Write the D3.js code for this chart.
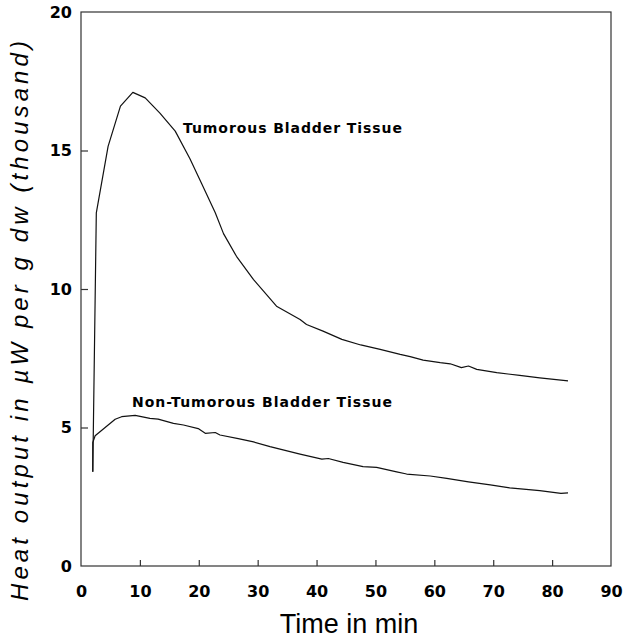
<!DOCTYPE html>
<html>
<head>
<meta charset="utf-8">
<script src="https://cdn.jsdelivr.net/npm/d3@7"></script>
<style>
  html, body { margin: 0; padding: 0; background: #fff; }
  svg { display: block; }
</style>
</head>
<body>
<svg id="chart" width="625" height="639"></svg>
<script>
// Heat output of bladder tissue over time (thousand µW per g dry weight)
const tumorousTime = [2.0, 2.6, 4.6, 6.7, 8.8, 10.9, 13.4, 16.0, 18.5, 20.5, 22.8, 24.2, 26.4, 29.3, 33.2, 37.2, 38.3, 41.1, 44.3, 47.5, 50.8, 54.2, 55.9, 58.1, 61.0, 62.7, 64.6, 65.8, 67.2, 70.6, 74.5, 77.9, 82.7];
const tumorousHeat = [3.4, 12.75, 15.15, 16.6, 17.1, 16.9, 16.35, 15.7, 14.7, 13.8, 12.75, 12.0, 11.18, 10.34, 9.38, 8.9, 8.72, 8.48, 8.18, 7.98, 7.82, 7.64, 7.56, 7.43, 7.34, 7.30, 7.16, 7.22, 7.10, 6.98, 6.88, 6.79, 6.68];

const nonTumorousTime = [2.0, 2.0, 2.4, 4.1, 5.8, 6.9, 9.2, 11.7, 13.1, 15.7, 17.4, 19.9, 21.1, 22.8, 23.6, 26.7, 29.3, 32.1, 33.8, 37.2, 40.9, 42.0, 44.5, 47.9, 50.2, 53.6, 55.3, 59.3, 62.1, 65.8, 69.5, 72.8, 77.9, 81.5, 82.7];
const nonTumorousHeat = [3.4, 4.46, 4.7, 5.0, 5.3, 5.39, 5.44, 5.33, 5.3, 5.15, 5.09, 4.96, 4.79, 4.82, 4.73, 4.6, 4.48, 4.31, 4.22, 4.04, 3.86, 3.88, 3.74, 3.59, 3.56, 3.40, 3.32, 3.25, 3.16, 3.04, 2.93, 2.82, 2.72, 2.62, 2.64];

const xTicks = [0, 10, 20, 30, 40, 50, 60, 70, 80, 90];
const yTicks = [0, 5, 10, 15, 20];

const seriesLabels = ["Tumorous Bladder Tissue", "Non-Tumorous Bladder Tissue"];
const xTitle = "Time in min";
const yTitle = "Heat output in \u00b5W per g dw (thousand)";

const svg = d3.select("#chart");
const plotLeft = 81, plotRight = 611, plotTop = 12, plotBottom = 566;

const x = d3.scaleLinear().domain([0, 90]).range([plotLeft, plotRight]);
const y = d3.scaleLinear().domain([0, 20]).range([plotBottom, plotTop]);

const axisColor = "#333";
const boldFont = "'DejaVu Sans', Verdana, sans-serif";
const textFont = "'Liberation Sans', Arial, sans-serif";

// frame
svg.append("rect")
  .attr("x", plotLeft).attr("y", plotTop)
  .attr("width", plotRight - plotLeft).attr("height", plotBottom - plotTop)
  .attr("fill", "none").attr("stroke", axisColor).attr("stroke-width", 1.2);

// x axis: inward ticks
const gx = svg.append("g").attr("transform", `translate(0,${plotBottom})`)
  .call(d3.axisBottom(x).tickValues(xTicks).tickSizeInner(-6).tickSizeOuter(0).tickPadding(20).tickFormat(d3.format("d")));
gx.select(".domain").remove();
gx.selectAll(".tick line").attr("stroke", axisColor).attr("stroke-width", 1.2);
gx.selectAll(".tick text")
  .attr("font-family", boldFont).attr("font-weight", "bold").attr("font-size", 16)
  .attr("fill", "#000");

// y axis: inward ticks
const gy = svg.append("g").attr("transform", `translate(${plotLeft},0)`)
  .call(d3.axisLeft(y).tickValues(yTicks).tickSizeInner(-7).tickSizeOuter(0).tickPadding(9).tickFormat(d3.format("d")));
gy.select(".domain").remove();
gy.selectAll(".tick line").attr("stroke", axisColor).attr("stroke-width", 1.2);
gy.selectAll(".tick text")
  .attr("font-family", boldFont).attr("font-weight", "bold").attr("font-size", 16)
  .attr("fill", "#000");
// end ticks coincide with the frame
gx.selectAll(".tick").filter(d => d === 0 || d === 90).select("line").remove();
gy.selectAll(".tick").filter(d => d === 0 || d === 20).select("line").remove();

// curves
const line = d3.line().x(d => x(d[0])).y(d => y(d[1]));
const tumorous = tumorousTime.map((t, i) => [t, tumorousHeat[i]]);
const nonTumorous = nonTumorousTime.map((t, i) => [t, nonTumorousHeat[i]]);

[tumorous, nonTumorous].forEach(data => {
  svg.append("path")
    .datum(data)
    .attr("d", line)
    .attr("fill", "none")
    .attr("stroke", "#111")
    .attr("stroke-width", 1.2)
    .attr("stroke-linejoin", "round");
});

// series labels
svg.append("text")
  .attr("x", 183).attr("y", 132.5)
  .attr("font-family", boldFont).attr("font-weight", "bold").attr("font-size", 14)
  .attr("textLength", 219).attr("lengthAdjust", "spacing")
  .text(seriesLabels[0]);

svg.append("text")
  .attr("x", 132).attr("y", 407)
  .attr("font-family", boldFont).attr("font-weight", "bold").attr("font-size", 14)
  .attr("textLength", 260).attr("lengthAdjust", "spacing")
  .text(seriesLabels[1]);

// axis titles
svg.append("text")
  .attr("x", 349).attr("y", 633)
  .attr("text-anchor", "middle")
  .attr("font-family", textFont).attr("font-size", 27)
  .text(xTitle);

svg.append("text")
  .attr("transform", "translate(28,321) rotate(-90)")
  .attr("text-anchor", "middle")
  .attr("font-family", textFont).attr("font-style", "italic").attr("font-size", 24)
  .attr("textLength", 560).attr("lengthAdjust", "spacing")
  .text(yTitle);
</script>
</body>
</html>
